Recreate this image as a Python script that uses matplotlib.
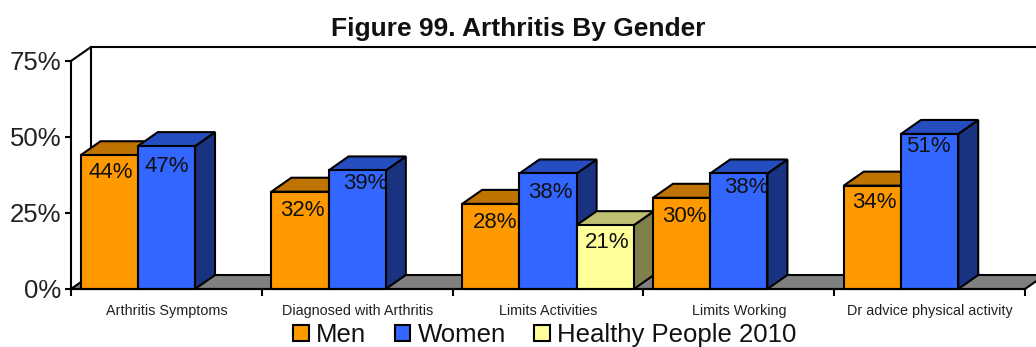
import matplotlib
matplotlib.use('Agg')
import matplotlib.pyplot as plt
from matplotlib.patches import Polygon, Patch

plt.rcParams['font.family'] = ['Liberation Sans', 'DejaVu Sans']

categories = ['Arthritis Symptoms', 'Diagnosed with Arthritis', 'Limits Activities', 'Limits Working', 'Dr advice physical activity']
men = [44, 32, 28, 30, 34]
women = [47, 39, 38, 38, 51]
healthy = [None, None, 21, None, None]
yticks = [0, 25, 50, 75]

# pixel offsets of the value labels from the middle of each bar's top
men_off = [(2, -17), (2, -19), (4, -19), (3, -19), (2, -17)]
women_off = [(0, -20), (8, -13), (2, -19), (8, -14), (-1, -13)]
healthy_off = (2, -17)

W, H = 1036, 347
fig = plt.figure(figsize=(W / 100, H / 100), dpi=100)
ax = fig.add_axes([71 / W, 1 - 289 / H, (1025 - 71) / W, (289 - 61) / H])
ax.set_xlim(0, 5)
ax.set_ylim(0, 75)
ax.patch.set_visible(False)

dx = 20 / (954 / 5)
dy = 14 / (228 / 75)
lw = 1.5
bw = 0.3
pad = 0.05


def bar3d(x, val, face, top, side, off):
    ax.add_patch(Polygon([(x + bw, 0), (x + bw + dx, dy), (x + bw + dx, val + dy), (x + bw, val)],
                         fc=side, ec='black', lw=lw, clip_on=False, zorder=3))
    ax.add_patch(Polygon([(x, val), (x + dx, val + dy), (x + bw + dx, val + dy), (x + bw, val)],
                         fc=top, ec='black', lw=lw, clip_on=False, zorder=3))
    ax.add_patch(Polygon([(x, 0), (x + bw, 0), (x + bw, val), (x, val)],
                         fc=face, ec='black', lw=lw, clip_on=False, zorder=3))
    ax.annotate(f'{val}%', (x + bw / 2, val), xytext=off, textcoords='offset pixels',
                ha='center', va='center', fontsize=16, color='#111111', zorder=10)


# floor and back wall
ax.add_patch(Polygon([(0, 0), (5, 0), (5 + dx, dy), (dx, dy)], fc='#808080', ec='black', lw=lw,
                     clip_on=False, zorder=1))
ax.plot([0, dx, dx], [75, 75 + dy, dy], color='black', lw=lw, clip_on=False, zorder=2)
ax.plot([dx, 5.2], [75 + dy, 75 + dy], color='black', lw=lw, clip_on=False, zorder=2)

for i in range(len(categories)):
    x = i + pad
    bar3d(x, men[i], '#FF9900', '#BF7300', '#805000', men_off[i])
    bar3d(x + bw, women[i], '#3366FF', '#264DBF', '#1A3380', women_off[i])
    if healthy[i] is not None:
        bar3d(x + 2 * bw, healthy[i], '#FFFF99', '#BFBF73', '#80804D', healthy_off)

for s in ['top', 'right']:
    ax.spines[s].set_visible(False)
for s in ['left', 'bottom']:
    ax.spines[s].set_linewidth(lw)
    ax.spines[s].set_zorder(5)

ax.set_yticks(yticks)
ax.set_yticklabels([f'{v}%' for v in yticks], fontsize=18.5, color='#222222')
ax.tick_params(axis='y', length=4, width=lw, pad=3)
ax.set_xticks(range(6))
ax.set_xticklabels([])
ax.tick_params(axis='x', length=5, width=lw)
ax.set_xticks([i + 0.5 for i in range(5)], minor=True)
ax.set_xticklabels(categories, minor=True, fontsize=10.4, color='#222222')
ax.tick_params(axis='x', which='minor', length=0, pad=11)

fig.text(518 / W, 1 - 29 / H, 'Figure 99. Arthritis By Gender', ha='center', va='center',
         fontsize=19, fontweight='bold', color='#111111')

handles = [Patch(fc='#FF9900', ec='black', lw=lw, label='Men'),
           Patch(fc='#3366FF', ec='black', lw=lw, label='Women'),
           Patch(fc='#FFFF99', ec='black', lw=lw, label='Healthy People 2010')]
fig.legend(handles=handles, loc='center', bbox_to_anchor=(545 / W, 1 - 335 / H), ncol=3, frameon=False,
           fontsize=18.5, handlelength=0.6, handleheight=0.6, handletextpad=0.3, columnspacing=1.1,
           borderpad=0, labelcolor='#111111')

fig.savefig('out.png', dpi=100)
